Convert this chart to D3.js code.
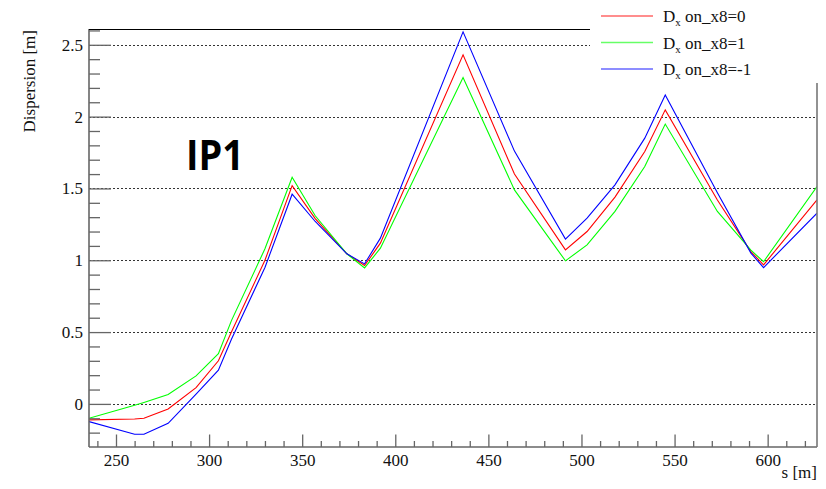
<!DOCTYPE html>
<html>
<head>
<meta charset="utf-8">
<script src="https://cdn.jsdelivr.net/npm/d3@7"></script>
<style>
  body { margin: 0; background: #fff; }
</style>
</head>
<body>
<div id="dispersion"></div>
<script>
// s positions [m] where the optics were sampled
const sPos = [235.5, 260, 265, 278, 293, 305, 312, 330, 344.6, 357, 374, 383.5, 392,
  436.4, 464, 491.4, 503, 518, 534, 545, 573, 591, 597.8, 626.5];

// horizontal dispersion [m]
const dxZero = [-0.111, -0.105, -0.100, -0.035, 0.113, 0.30, 0.50, 1.00, 1.52, 1.29, 1.045, 0.963, 1.119,
  2.43, 1.60, 1.072, 1.20, 1.44, 1.757, 2.047, 1.42, 1.06, 0.968, 1.42];
const dxPlus = [-0.10, -0.01, 0.01, 0.065, 0.195, 0.35, 0.58, 1.08, 1.578, 1.31, 1.045, 0.947, 1.084,
  2.272, 1.49, 0.996, 1.107, 1.34, 1.653, 1.948, 1.34, 1.07, 0.99, 1.513];
const dxMinus = [-0.123, -0.211, -0.211, -0.135, 0.068, 0.235, 0.45, 0.95, 1.46, 1.27, 1.045, 0.975, 1.154,
  2.59, 1.76, 1.147, 1.293, 1.525, 1.85, 2.15, 1.47, 1.05, 0.949, 1.328];

const seriesLabels = ["on_x8=0", "on_x8=1", "on_x8=-1"];
const seriesColors = ["#ff0000", "#00ff00", "#0000ff"];

const xTicks = [250, 300, 350, 400, 450, 500, 550, 600];
const yTicks = [0, 0.5, 1, 1.5, 2, 2.5];

const serif = "Liberation Serif, Tinos, Times, Nimbus Roman, Noto Serif, DejaVu Serif, FreeSerif, serif";

function dispersionPlot() {
  // set variables
  const margin = {top: 29, right: 9, bottom: 42, left: 89};
  const width = 826 - margin.left - margin.right;
  const height = 489 - margin.top - margin.bottom;
  const x = d3.scaleLinear().domain([235.5, 626.5]).range([0, width]);
  const y = d3.scaleLinear().domain([-0.3, 2.61]).range([height, 0]);

  const xMinor = d3.range(240, 627, 10).filter(v => xTicks.indexOf(v) < 0);
  const yMinor = d3.range(-2, 27).map(v => v / 10).filter(v => yTicks.indexOf(v) < 0);

  const root = d3.select("#dispersion")
    .append("svg")
    .attr("width", 826)
    .attr("height", 489);

  const svg = root.append("g")
    .attr("transform", `translate(${margin.left}, ${margin.top})`);

  svg.append("clipPath")
    .attr("id", "frame")
    .append("rect")
    .attr("width", width)
    .attr("height", height);

  // dotted grid
  svg.append("g")
    .selectAll("line")
    .data(yTicks)
    .enter()
    .append("line")
    .attr("x1", 0)
    .attr("x2", width)
    .attr("y1", d => Math.round(y(d)) + 0.5)
    .attr("y2", d => Math.round(y(d)) + 0.5)
    .attr("stroke", "#333")
    .attr("stroke-dasharray", "2,2");

  // curves
  const line = d3.line()
    .x(d => x(d[0]))
    .y(d => y(d[1]));

  [dxZero, dxPlus, dxMinus].forEach(function (vals, i) {
    svg.append("path")
      .datum(sPos.map((s, j) => [s, vals[j]]))
      .attr("clip-path", "url(#frame)")
      .attr("fill", "none")
      .attr("stroke", seriesColors[i])
      .attr("stroke-width", 1.1)
      .attr("d", line);
  });

  // axes, ticks pointing inwards
  svg.append("g")
    .attr("transform", `translate(0,${height})`)
    .call(d3.axisBottom(x).tickValues(xTicks).tickSize(-12.5).tickSizeOuter(0).tickPadding(7));
  svg.append("g")
    .attr("transform", `translate(0,${height})`)
    .call(d3.axisBottom(x).tickValues(xMinor).tickSize(-6).tickSizeOuter(0).tickFormat(""));

  svg.append("g")
    .call(d3.axisLeft(y).tickValues(yTicks).tickSize(-22).tickSizeOuter(0).tickPadding(6)
      .tickFormat(d3.format("~g")));
  svg.append("g")
    .call(d3.axisLeft(y).tickValues(yMinor).tickSize(-11).tickSizeOuter(0).tickFormat(""));

  svg.selectAll(".domain").remove();
  svg.selectAll(".tick line").attr("stroke", "#666").attr("stroke-width", 1.3);
  svg.selectAll(".tick").attr("font-family", null);
  svg.selectAll("g").attr("font-family", serif);
  svg.selectAll(".tick text")
    .attr("font-family", serif)
    .attr("font-size", 17)
    .attr("fill", "#111");

  // frame
  svg.append("line").attr("x1", 0).attr("x2", width).attr("y1", height).attr("y2", height)
    .attr("stroke", "#666").attr("stroke-width", 1.6);
  svg.append("line").attr("x1", 0).attr("x2", 0).attr("y1", 0).attr("y2", height)
    .attr("stroke", "#666").attr("stroke-width", 1.6);
  svg.append("line").attr("x1", width).attr("x2", width).attr("y1", 0).attr("y2", height)
    .attr("stroke", "#777").attr("stroke-width", 1.6);
  svg.append("line").attr("x1", 0).attr("x2", width).attr("y1", 0.5).attr("y2", 0.5)
    .attr("stroke", "#000").attr("stroke-width", 1);

  // axis titles
  root.append("text")
    .attr("transform", "translate(35, 30) rotate(-90)")
    .attr("text-anchor", "end")
    .attr("font-family", serif)
    .attr("font-size", 17)
    .attr("fill", "#111")
    .text("Dispersion [m]");

  root.append("text")
    .attr("x", 817)
    .attr("y", 478)
    .attr("text-anchor", "end")
    .attr("font-family", serif)
    .attr("font-size", 17)
    .attr("fill", "#111")
    .text("s [m]");

  root.append("text")
    .attr("x", 186)
    .attr("y", 170)
    .attr("textLength", 58)
    .attr("lengthAdjust", "spacingAndGlyphs")
    .attr("font-family", "Open Sans, Liberation Sans, sans-serif")
    .attr("font-weight", "bold")
    .attr("font-size", 42)
    .attr("fill", "#000")
    .text("IP1");

  // legend
  const legend = root.append("g");
  legend.append("rect")
    .attr("x", 590)
    .attr("y", 0)
    .attr("width", 236)
    .attr("height", 83)
    .attr("fill", "#fff");

  const rows = legend.selectAll(".row")
    .data(seriesLabels)
    .enter()
    .append("g")
    .attr("class", "row")
    .attr("transform", (d, i) => `translate(0, ${16 + i * 26.5})`);

  rows.append("line")
    .attr("x1", 601)
    .attr("x2", 653)
    .attr("stroke", (d, i) => seriesColors[i])
    .attr("stroke-opacity", 0.6)
    .attr("stroke-width", 1.5);

  const label = rows.append("text")
    .attr("x", 663)
    .attr("y", 6)
    .attr("font-family", serif)
    .attr("font-size", 17)
    .attr("fill", "#111");
  label.append("tspan").text("D");
  label.append("tspan").attr("dy", 4).attr("font-size", 11).text("x");
  label.append("tspan").attr("dy", -4).text(d => " " + d);
}

dispersionPlot();
</script>
</body>
</html>
